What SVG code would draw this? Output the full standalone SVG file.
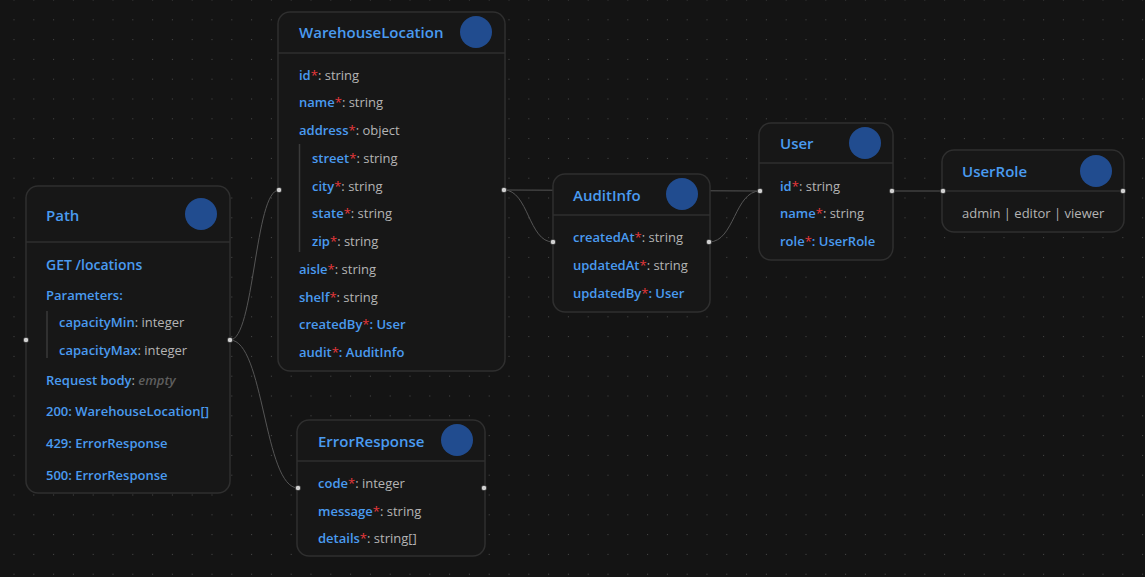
<svg xmlns="http://www.w3.org/2000/svg" width="1145" height="577" viewBox="0 0 1145 577">
<defs>
<pattern id="grid" x="13.5" y="-0.5" width="19.8" height="19.8" patternUnits="userSpaceOnUse">
<rect x="0" y="0" width="1" height="1" fill="#4a4a4a"/>
</pattern>
<style>
.box{fill:#171717;stroke:#2f2f2f;stroke-width:1.5}
.div{stroke:#2f2f2f;stroke-width:1.5}
.bar{stroke:#3a3a3a;stroke-width:1.5}
.badge{fill:#214c8f}
.title{font-family:"Open Sans","Liberation Sans",Arial,sans-serif;font-size:15px;font-weight:600;fill:#4a9bf0}
.get{font-size:14px}
.row{font-family:"Open Sans","Liberation Sans",Arial,sans-serif;font-size:13px;font-weight:600;fill:#4a9bf0}
.t{font-weight:400;fill:#b4b4b4}
.req{font-weight:400;fill:#e5383b}
.em{font-style:italic;font-weight:600;fill:#5e5e5e}
.edge{fill:none;stroke:#555;stroke-width:1}
.h{fill:#d0d0d0;stroke:#1a1a1a;stroke-width:0.8}
</style>
</defs>
<rect width="1145" height="577" fill="#141414"/>
<rect width="1145" height="577" fill="url(#grid)"/>

<g id="connectors">
<path class="edge" d="M230,340 C254.5,340 254.5,190 279,190"/>
<path class="edge" d="M230,340 C264,340 264,488 298,488"/>
<path class="edge" d="M504,190 L760,191"/>
<path class="edge" d="M504,190 C528.5,190 528.5,242 553,242"/>
<path class="edge" d="M709,242 C734.5,242 734.5,191 760,191"/>
<path class="edge" d="M892,191 L943,191"/>
</g>

<g id="node-path">
<rect class="box" x="26" y="186" width="204" height="307" rx="12"/>
<line class="div" x1="26" y1="242" x2="230" y2="242"/>
<text class="title" x="46" y="221">Path</text>
<circle class="badge" cx="201" cy="214" r="16"/>
<text class="title get" x="46" y="270">GET /locations</text>
<text class="row" x="46" y="300">Parameters:</text>
<line class="bar" x1="47" y1="311" x2="47" y2="358"/>
<text class="row" x="59" y="327">capacityMin<tspan class="t">: integer</tspan></text>
<text class="row" x="59" y="355">capacityMax<tspan class="t">: integer</tspan></text>
<text class="row" x="46" y="385">Request body<tspan class="t">: </tspan><tspan class="em">empty</tspan></text>
<text class="row" x="46" y="416">200: WarehouseLocation[]</text>
<text class="row" x="46" y="448">429: ErrorResponse</text>
<text class="row" x="46" y="480">500: ErrorResponse</text>
<circle class="h" cx="26" cy="340" r="2.8"/>
<circle class="h" cx="230" cy="340" r="2.8"/>
</g>

<g id="node-warehouselocation">
<rect class="box" x="278" y="12" width="227" height="359" rx="12"/>
<line class="div" x1="278" y1="53" x2="505" y2="53"/>
<text class="title" x="299" y="38">WarehouseLocation</text>
<circle class="badge" cx="476" cy="32" r="16"/>
<text class="row" x="299" y="80">id<tspan class="req">*</tspan><tspan class="t">: string</tspan></text>
<text class="row" x="299" y="107">name<tspan class="req">*</tspan><tspan class="t">: string</tspan></text>
<text class="row" x="299" y="135">address<tspan class="req">*</tspan><tspan class="t">: object</tspan></text>
<line class="bar" x1="299.5" y1="144" x2="299.5" y2="252"/>
<text class="row" x="312" y="163">street<tspan class="req">*</tspan><tspan class="t">: string</tspan></text>
<text class="row" x="312" y="191">city<tspan class="req">*</tspan><tspan class="t">: string</tspan></text>
<text class="row" x="312" y="218">state<tspan class="req">*</tspan><tspan class="t">: string</tspan></text>
<text class="row" x="312" y="246">zip<tspan class="req">*</tspan><tspan class="t">: string</tspan></text>
<text class="row" x="299" y="274">aisle<tspan class="req">*</tspan><tspan class="t">: string</tspan></text>
<text class="row" x="299" y="302">shelf<tspan class="req">*</tspan><tspan class="t">: string</tspan></text>
<text class="row" x="299" y="329">createdBy<tspan class="req">*</tspan>: User</text>
<text class="row" x="299" y="357">audit<tspan class="req">*</tspan>: AuditInfo</text>
<circle class="h" cx="279" cy="190" r="2.8"/>
<circle class="h" cx="504" cy="190" r="2.8"/>
</g>

<g id="node-errorresponse">
<rect class="box" x="297" y="420" width="188" height="136" rx="12"/>
<line class="div" x1="297" y1="461" x2="485" y2="461"/>
<text class="title" x="318" y="447">ErrorResponse</text>
<circle class="badge" cx="457" cy="440" r="16"/>
<text class="row" x="318" y="488">code<tspan class="req">*</tspan><tspan class="t">: integer</tspan></text>
<text class="row" x="318" y="516">message<tspan class="req">*</tspan><tspan class="t">: string</tspan></text>
<text class="row" x="318" y="543">details<tspan class="req">*</tspan><tspan class="t">: string[]</tspan></text>
<circle class="h" cx="298" cy="488" r="2.8"/>
<circle class="h" cx="484" cy="488" r="2.8"/>
</g>

<g id="node-auditinfo">
<rect class="box" x="553" y="174" width="157" height="138" rx="12"/>
<line class="div" x1="553" y1="215" x2="710" y2="215"/>
<text class="title" x="573" y="201">AuditInfo</text>
<circle class="badge" cx="682" cy="194" r="16"/>
<text class="row" x="573" y="242">createdAt<tspan class="req">*</tspan><tspan class="t">: string</tspan></text>
<text class="row" x="573" y="270">updatedAt<tspan class="req">*</tspan><tspan class="t">: string</tspan></text>
<text class="row" x="573" y="298">updatedBy<tspan class="req">*</tspan>: User</text>
<circle class="h" cx="553" cy="242" r="2.8"/>
<circle class="h" cx="709" cy="242" r="2.8"/>
</g>

<g id="node-user">
<rect class="box" x="759" y="123" width="134" height="137" rx="12"/>
<line class="div" x1="759" y1="163" x2="893" y2="163"/>
<text class="title" x="780" y="149">User</text>
<circle class="badge" cx="865" cy="143" r="16"/>
<text class="row" x="780" y="191">id<tspan class="req">*</tspan><tspan class="t">: string</tspan></text>
<text class="row" x="780" y="218">name<tspan class="req">*</tspan><tspan class="t">: string</tspan></text>
<text class="row" x="780" y="246">role<tspan class="req">*</tspan>: UserRole</text>
<circle class="h" cx="760" cy="191" r="2.8"/>
<circle class="h" cx="892" cy="191" r="2.8"/>
</g>

<g id="node-userrole">
<rect class="box" x="942" y="150" width="182" height="82" rx="12"/>
<line class="div" x1="942" y1="191" x2="1124" y2="191"/>
<text class="title" x="962" y="177">UserRole</text>
<circle class="badge" cx="1096" cy="171" r="16"/>
<text class="row" x="962" y="218"><tspan class="t">admin | editor | viewer</tspan></text>
<circle class="h" cx="943" cy="191" r="2.8"/>
<circle class="h" cx="1123" cy="191" r="2.8"/>
</g>
</svg>
